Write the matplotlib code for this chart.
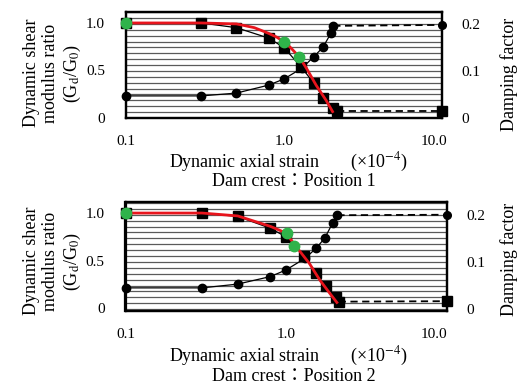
import matplotlib
matplotlib.use("Agg")
import matplotlib.pyplot as plt
from matplotlib.ticker import MultipleLocator, FixedLocator, NullFormatter
from matplotlib.transforms import ScaledTranslation

plt.rcParams['font.family'] = ['Liberation Serif', 'Noto Sans CJK JP', 'DejaVu Sans']
plt.rcParams['mathtext.fontset'] = 'stix'

# ---------------- data ----------------
# Position 1 (top)
sq_strain_1 = [0.1, 0.3, 0.5, 0.8, 1.0, 1.29, 1.55, 1.77, 2.05, 2.15]
sq_G_1 = [1.0, 1.0, 0.95, 0.84, 0.74, 0.53, 0.36, 0.21, 0.10, 0.07]
sq_end_1 = ([2.15, 10.0], [0.07, 0.07])
ci_strain_1 = [0.1, 0.3, 0.5, 0.8, 1.0, 1.30, 1.54, 1.76, 1.98, 2.05]
ci_D_1 = [0.047, 0.047, 0.053, 0.070, 0.083, 0.106, 0.130, 0.150, 0.180, 0.196]
ci_end_1 = ([2.05, 10.0], [0.196, 0.198])
red_strain_1 = [0.1, 0.3, 0.5, 0.65, 0.8, 0.9, 1.0, 1.1, 1.25, 1.4, 1.6, 1.85, 2.05]
red_G_1 = [1.0, 1.0, 0.99, 0.95, 0.89, 0.85, 0.80, 0.74, 0.64, 0.51, 0.34, 0.18, 0.05]
gr_strain_1 = [0.1, 1.0, 1.25]
gr_G_1 = [1.0, 0.80, 0.64]

# Position 2 (bottom)
sq_strain_2 = [0.1, 0.3, 0.5, 0.8, 1.0, 1.30, 1.54, 1.77, 2.05, 2.13]
sq_G_2 = [1.0, 1.0, 0.965, 0.84, 0.75, 0.55, 0.37, 0.23, 0.12, 0.07]
sq_end_2 = ([2.13, 10.0], [0.07, 0.075])
ci_strain_2 = [0.1, 0.3, 0.5, 0.8, 1.0, 1.32, 1.54, 1.74, 1.95, 2.09]
ci_D_2 = [0.045, 0.045, 0.053, 0.069, 0.083, 0.108, 0.129, 0.150, 0.182, 0.199]
ci_end_2 = ([2.09, 10.0], [0.199, 0.200])
red_strain_2 = [0.1, 0.3, 0.5, 0.8, 0.91, 1.0, 1.13, 1.4, 1.62, 1.87, 2.1]
red_G_2 = [1.0, 1.0, 0.97, 0.86, 0.82, 0.79, 0.67, 0.47, 0.30, 0.16, 0.05]
gr_strain_2 = [0.1, 1.02, 1.12]
gr_G_2 = [1.0, 0.79, 0.65]

x_ticks = [0.1, 1.0, 10.0]
x_ticklabels = ['0.1', '1.0', '10.0']
yl_ticks = [0, 0.5, 1.0]
yl_ticklabels = ['0', '0.5', '1.0']
yr_ticks = [0, 0.1, 0.2]
yr_ticklabels = ['0', '0.1', '0.2']

xlabel = 'Dynamic axial strain       (×10$^{-4}$)'
captions = ['Dam crest：Position 1', 'Dam crest：Position 2']
ylabel_left = 'Dynamic shear\nmodulus ratio\n(G$_\\mathrm{d}$/G$_\\mathrm{0}$)'
ylabel_right = 'Damping factor'

W, H = 522, 389
fig = plt.figure(figsize=(W / 100, H / 100), dpi=100)

RED = '#e8141c'
GREEN = '#2fb34a'

panels = [
    dict(rect=[126 / W, 1 - 118 / H, 316 / W, 106 / H], ylimL=(-0.005, 1.116), ylimR=(0, 0.2255),
         sq=(sq_strain_1, sq_G_1), sqe=sq_end_1, ci=(ci_strain_1, ci_D_1), cie=ci_end_1,
         red=(red_strain_1, red_G_1), gr=(gr_strain_1, gr_G_1), cap=captions[0],
         xl_y=1 - 162 / H, cap_y=1 - 182 / H, yl_y=1 - 73 / H, yr_y=1 - 74 / H, off10=-8),
    dict(rect=[125.5 / W, 1 - 311 / H, 321 / W, 109 / H], ylimL=(-0.028, 1.116), ylimR=(-0.004, 0.227),
         sq=(sq_strain_2, sq_G_2), sqe=sq_end_2, ci=(ci_strain_2, ci_D_2), cie=ci_end_2,
         red=(red_strain_2, red_G_2), gr=(gr_strain_2, gr_G_2), cap=captions[1],
         xl_y=1 - 356.7 / H, cap_y=1 - 376.7 / H, yl_y=1 - 261 / H, yr_y=1 - 259 / H, off10=-13),
]

for p in panels:
    ax = fig.add_axes(p['rect'])
    ax2 = ax.twinx()
    ax.set_zorder(ax2.get_zorder() + 1)
    ax.patch.set_visible(False)

    for a in (ax, ax2):
        a.set_xscale('log')
        a.set_xlim(0.1, 10)
    ax.set_ylim(*p['ylimL'])
    ax2.set_ylim(*p['ylimR'])

    ax2.xaxis.set_minor_formatter(NullFormatter())
    ax2.yaxis.set_minor_locator(MultipleLocator(0.0125))
    ax2.grid(which='both', axis='x', color='#333333', lw=1.0)
    ax2.grid(which='both', axis='y', color='#5a5a5a', lw=0.9)
    ax2.set_axisbelow(True)

    # damping (circles)
    ax2.plot(p['ci'][0], p['ci'][1], '-', color='black', lw=0.9, marker='o', ms=6,
             clip_on=False, zorder=3)
    ax2.plot(p['cie'][0], p['cie'][1], '--', color='black', lw=1.3, dashes=(4, 2.5), zorder=3,
             clip_on=False)
    ax2.plot(p['cie'][0][-1:], p['cie'][1][-1:], 'o', color='black', ms=5.5, clip_on=False, zorder=4)

    # modulus ratio (squares)
    ax.plot(p['sq'][0], p['sq'][1], '-', color='black', lw=0.9, marker='s', ms=7,
            clip_on=False, zorder=2)
    ax.plot(p['sqe'][0], p['sqe'][1], '--', color='black', lw=1.3, dashes=(4, 2.5), zorder=2,
            clip_on=False)
    ax.plot(p['sqe'][0][-1:], p['sqe'][1][-1:], 's', color='black', ms=7.5, clip_on=False, zorder=3)
    ax.plot(p['red'][0], p['red'][1], '-', color=RED, lw=2.0, zorder=4, clip_on=False,
            solid_capstyle='butt')
    ax.plot(p['gr'][0], p['gr'][1], 'o', color=GREEN, ms=7.5, zorder=5, clip_on=False)

    # ticks
    ax.xaxis.set_major_locator(FixedLocator(x_ticks))
    ax.set_xticklabels(x_ticklabels)
    ax.xaxis.set_minor_formatter(NullFormatter())
    ax.set_yticks(yl_ticks)
    ax.set_yticklabels(yl_ticklabels)
    ax2.set_yticks(yr_ticks)
    ax2.set_yticklabels(yr_ticklabels)
    ax2.yaxis.set_minor_locator(MultipleLocator(0.0125))
    for a in (ax, ax2):
        a.tick_params(which='both', length=0, labelsize=11)
    ax.tick_params(axis='x', pad=12)
    ax.tick_params(axis='y', pad=15)
    ax2.tick_params(axis='y', pad=14)
    ax2.tick_params(axis='x', labelbottom=False)
    t10 = ax.xaxis.get_major_ticks()[2].label1
    t10.set_transform(t10.get_transform() + ScaledTranslation(p['off10'] / 100, 0, fig.dpi_scale_trans))

    for a in (ax, ax2):
        for s in a.spines.values():
            s.set_linewidth(1.6)
            s.set_color('black')

    fig.text(0.553, p['xl_y'], xlabel, ha='center', va='center', fontsize=13)
    fig.text(0.563, p['cap_y'], p['cap'], ha='center', va='center', fontsize=13)
    fig.text(53 / W, p['yl_y'], ylabel_left, rotation=90, ha='center', va='center',
             fontsize=13, linespacing=1.2, multialignment='center')
    fig.text(509 / W, p['yr_y'], ylabel_right, rotation=90, ha='center', va='center', fontsize=13)

fig.savefig('out.png', dpi=100)
